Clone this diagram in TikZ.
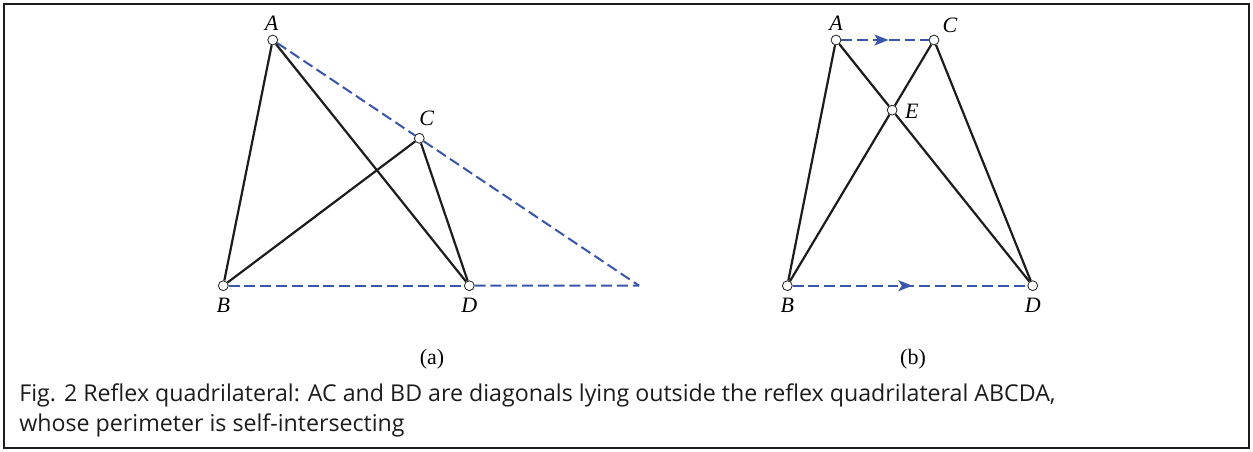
\documentclass[tikz,border=0pt]{standalone}
\usepackage{fontspec}
\setmainfont{Liberation Serif}
\newfontfamily\captionfont{Open Sans}
\usetikzlibrary{arrows.meta,decorations.markings}

\definecolor{lineblue}{RGB}{58,86,170}
\definecolor{edgeblack}{RGB}{28,28,28}

\tikzset{
    pt/.style={circle, draw=edgeblack, line width=0.45pt, fill=white, inner sep=0pt, minimum size=5.6pt},
    sideline/.style={edgeblack, line width=1.25pt},
    dashline/.style={lineblue, line width=1.15pt, dash pattern=on 6.2pt off 2.8pt},
    midarrow/.style={postaction={decorate}, decoration={markings,
        mark=at position #1 with {\arrow{Stealth[length=8pt,width=6.2pt,inset=2pt]}}}},
    ptlabel/.style={font=\fontsize{12.5}{14}\selectfont\itshape, inner sep=0pt},
    sublabel/.style={font=\fontsize{12.5}{14}\selectfont, inner sep=0pt},
    capt/.style={font=\captionfont\fontsize{13.2}{17}\selectfont, text=edgeblack, inner sep=0pt},
}

\begin{document}
\begin{tikzpicture}[x=0.02cm, y=-0.02cm]
    % Frame
    \useasboundingbox (0,0) rectangle (1253,451);
    \draw[edgeblack, line width=1.1pt] (4,4) rectangle (1249,448);

    % (a) points
    \node[pt] (A1) at (272.7,40) {};
    \node[pt] (B1) at (223.3,285.7) {};
    \node[pt] (C1) at (419.3,138.3) {};
    \node[pt] (D1) at (469.3,285.7) {};
    \coordinate (F1) at (intersection of A1--C1 and B1--D1);

    % (a) dashed extensions
    \draw[dashline] (A1) -- (C1);
    \draw[dashline] (C1) -- (F1);
    \draw[dashline] (B1) -- (D1);
    \draw[dashline] (D1) -- (F1);

    % (a) sides
    \draw[sideline] (A1) -- (B1);
    \draw[sideline] (A1) -- (D1);
    \draw[sideline] (B1) -- (C1);
    \draw[sideline] (C1) -- (D1);

    % (a) labels
    \node[ptlabel] (lA1) at (271.7,23) {A};
    \node[ptlabel] (lC1) at (426.7,118) {C};
    \node[ptlabel] (lB1) at (223.3,305) {B};
    \node[ptlabel] (lD1) at (469.3,305) {D};

    % (b) points
    \node[pt] (A2) at (836,40) {};
    \node[pt] (C2) at (934,40) {};
    \node[pt] (B2) at (787.3,285.7) {};
    \node[pt] (D2) at (1032.7,285.7) {};
    \node[pt] (E2) at (intersection of A2--D2 and B2--C2) {};

    % (b) parallel dashed lines
    \draw[dashline, midarrow=0.54] (A2) -- (C2);
    \draw[dashline, midarrow=0.51] (B2) -- (D2);

    % (b) sides
    \draw[sideline] (A2) -- (B2);
    \draw[sideline] (A2) -- (E2);
    \draw[sideline] (E2) -- (D2);
    \draw[sideline] (B2) -- (E2);
    \draw[sideline] (E2) -- (C2);
    \draw[sideline] (C2) -- (D2);

    % (b) labels
    \node[ptlabel] (lA2) at (836,23) {A};
    \node[ptlabel] (lC2) at (950,25) {C};
    \node[ptlabel] (lE2) at (911.7,111.7) {E};
    \node[ptlabel] (lB2) at (787.3,305) {B};
    \node[ptlabel] (lD2) at (1032.7,305) {D};

    % Sub-captions
    \node[sublabel] (suba) at (432,359) {(a)};
    \node[sublabel] (subb) at (913,359) {(b)};

    % Caption
    \node[capt, anchor=base west] (cap1) at (19,401)
        {Fig. 2 Reflex quadrilateral: AC and BD are diagonals lying outside the reflex quadrilateral ABCDA,};
    \node[capt, anchor=base west] (cap2) at (19,431)
        {whose perimeter is self-intersecting};
\end{tikzpicture}
\end{document}
